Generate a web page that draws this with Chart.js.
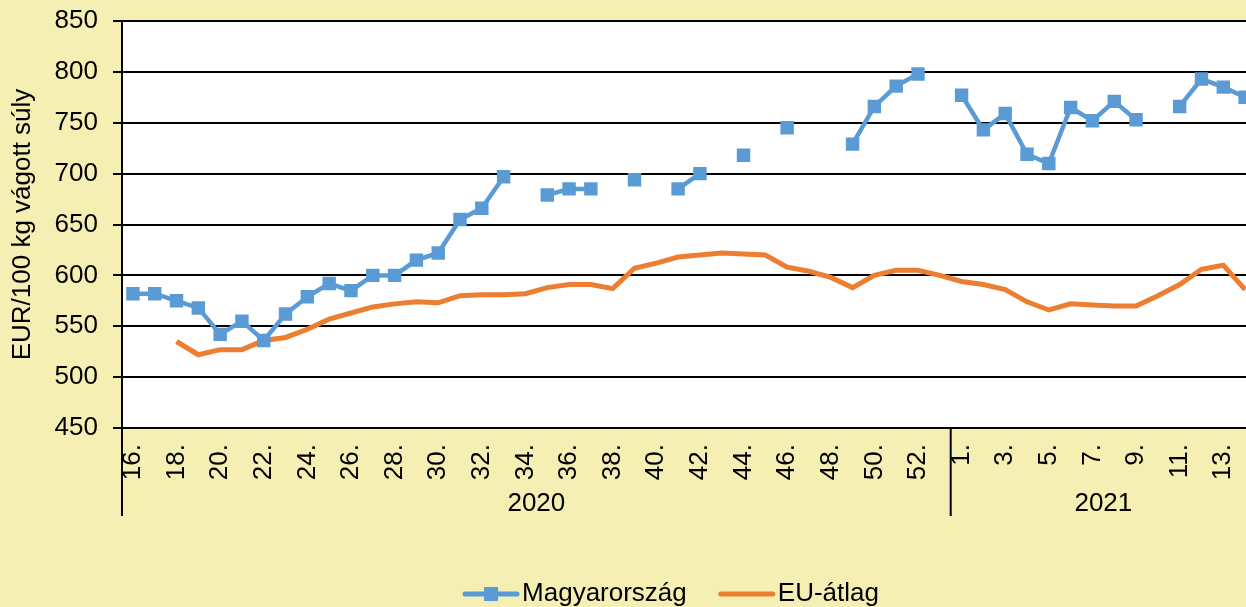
<!DOCTYPE html>
<html>
<head>
<meta charset="utf-8">
<script src="https://cdn.jsdelivr.net/npm/chart.js@4.4.1/dist/chart.umd.min.js"></script>
<style>
  html, body { margin: 0; padding: 0; background: #f5efb4; overflow: hidden; }
  #wrap { width: 1342px; height: 607px; }
</style>
</head>
<body>
<div id="wrap"><canvas id="priceChart" width="1342" height="607"></canvas></div>
<script>
// weekly carcass prices, EUR/100 kg
const weeks2020 = ["16.", "17.", "18.", "19.", "20.", "21.", "22.", "23.", "24.", "25.",
  "26.", "27.", "28.", "29.", "30.", "31.", "32.", "33.", "34.", "35.", "36.", "37.",
  "38.", "39.", "40.", "41.", "42.", "43.", "44.", "45.", "46.", "47.", "48.", "49.",
  "50.", "51.", "52.", "53."];
const weeks2021 = ["1.", "2.", "3.", "4.", "5.", "6.", "7.", "8.", "9.", "10.", "11.",
  "12.", "13.", "14."];
const years = ["2020", "2021"];

const magyarorszag = [582, 582, 575, 568, 542, 555, 536, 562, 579, 592,
  585, 600, 600, 615, 622, 655, 666, 697, null, 679, 685, 685,
  null, 694, null, 685, 700, null, 718, null, 745, null, null, 729,
  766, 786, 798, null,
  777, 743, 759, 719, 710, 765, 752, 771, 753, null, 766,
  793, 785, 775];
const euAtlag = [null, null, 535, 522, 527, 527, 536, 539, 547, 557,
  563, 569, 572, 574, 573, 580, 581, 581, 582, 588, 591, 591,
  587, 607, 612, 618, 620, 622, 621, 620, 608, 604, 598, 588,
  600, 605, 605, 600,
  594, 591, 586, 574, 566, 572, 571, 570, 570, 580, 591,
  606, 610, 586];

const blue = "#5b9bd5";
const orange = "#ed7d31";
const FONT = "'Liberation Sans', Arial, sans-serif";

Chart.defaults.font.family = FONT;
Chart.defaults.font.size = 26;
Chart.defaults.color = "#000";

const labels = weeks2020.concat(weeks2021);

// white plot area
const plotBg = {
  id: "plotBg",
  beforeDraw(chart) {
    const a = chart.chartArea;
    chart.ctx.save();
    chart.ctx.fillStyle = "#fff";
    chart.ctx.fillRect(a.left, a.top, a.right - a.left, a.bottom - a.top);
    chart.ctx.restore();
  }
};

// second row of the x axis: year names and group dividers
const yearRow = {
  id: "yearRow",
  afterDraw(chart) {
    const ctx = chart.ctx;
    const x = chart.scales.x;
    const a = chart.chartArea;
    const split = (x.getPixelForValue(weeks2020.length - 1) + x.getPixelForValue(weeks2020.length)) / 2;
    const groups = [[a.left, split], [split, a.right]];
    ctx.save();
    ctx.strokeStyle = "#000";
    ctx.lineWidth = 2;
    [a.left, split].forEach(px => {
      ctx.beginPath();
      ctx.moveTo(px, a.bottom);
      ctx.lineTo(px, a.bottom + 88);
      ctx.stroke();
    });
    ctx.fillStyle = "#000";
    ctx.font = "26px " + FONT;
    ctx.textAlign = "center";
    ctx.textBaseline = "alphabetic";
    groups.forEach((g, i) => ctx.fillText(years[i], (g[0] + g[1]) / 2, a.bottom + 83));
    ctx.restore();
  }
};

// legend: line with marker for Hungary, plain line for EU average
const bottomLegend = {
  id: "bottomLegend",
  afterDraw(chart) {
    const ctx = chart.ctx;
    ctx.save();
    ctx.font = "26px " + FONT;
    const items = chart.data.datasets.map(ds => ({
      text: ds.label, color: ds.borderColor, marker: ds.pointRadius > 0,
      w: ctx.measureText(ds.label).width
    }));
    const lineLen = 56, gapText = 3, gapItem = 32;
    const total = items.reduce((s, it) => s + lineLen + gapText + it.w, 0) + gapItem * (items.length - 1);
    let cx = chart.width / 2 - total / 2;
    const ly = 594, by = 601;
    items.forEach(it => {
      ctx.strokeStyle = it.color;
      ctx.lineWidth = 5;
      ctx.lineCap = "round";
      ctx.beginPath();
      ctx.moveTo(cx + 2, ly);
      ctx.lineTo(cx + lineLen - 2, ly);
      ctx.stroke();
      if (it.marker) {
        ctx.fillStyle = it.color;
        ctx.fillRect(cx + lineLen / 2 - 7, ly - 7, 14, 14);
      }
      ctx.fillStyle = "#000";
      ctx.textBaseline = "alphabetic";
      ctx.fillText(it.text, cx + lineLen + gapText, by);
      cx += lineLen + gapText + it.w + gapItem;
    });
    ctx.restore();
  }
};

new Chart(document.getElementById("priceChart"), {
  type: "line",
  data: {
    labels: labels,
    datasets: [{
      label: "Magyarország",
      data: magyarorszag,
      borderColor: blue,
      backgroundColor: blue,
      borderWidth: 4.5,
      pointStyle: "rect",
      pointRadius: 9.5,
      pointBorderWidth: 0,
      pointBackgroundColor: blue,
      spanGaps: false,
      tension: 0
    }, {
      label: "EU-átlag",
      data: euAtlag,
      borderColor: orange,
      backgroundColor: orange,
      borderWidth: 5,
      pointRadius: 0,
      tension: 0
    }]
  },
  options: {
    responsive: false,
    animation: false,
    layout: { padding: { top: 21, right: 86, bottom: 0, left: 0 } },
    plugins: {
      legend: { display: false },
      tooltip: { enabled: false }
    },
    scales: {
      x: {
        offset: true,
        grid: { display: false },
        border: { display: true, color: "#000", width: 2 },
        ticks: {
          autoSkip: false,
          maxRotation: 90,
          minRotation: 90,
          padding: 8,
          font: { size: 26 },
          callback: function(val, i) { return i % 2 === 0 ? this.getLabelForValue(val) : ""; }
        },
        afterFit(scale) { scale.height = 179; }
      },
      y: {
        min: 450,
        max: 850,
        ticks: { stepSize: 50, padding: 15, font: { size: 26 } },
        grid: { color: "#000", lineWidth: 2, tickLength: 9 },
        border: { display: true, color: "#000", width: 2 },
        title: {
          display: true,
          text: "EUR/100 kg vágott súly",
          font: { size: 26 },
          padding: { top: 7, bottom: 0 }
        },
        afterFit(scale) {
          scale.width = 122;
          // top/bottom room comes from the layout padding instead
          scale.paddingTop = 0;
          scale.paddingBottom = 0;
        }
      }
    }
  },
  plugins: [plotBg, yearRow, bottomLegend]
});
</script>
</body>
</html>
